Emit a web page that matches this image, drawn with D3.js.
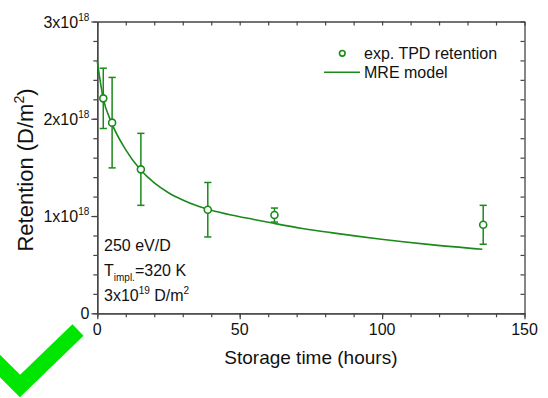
<!DOCTYPE html>
<html>
<head>
<meta charset="utf-8">
<script src="https://cdn.jsdelivr.net/npm/d3@7"></script>
<style>
    body { margin: 0; background: #fff; }
    svg { display: block; font-family: Arial, "Liberation Sans", sans-serif; }
</style>
</head>
<body>
<svg id="chart" width="548" height="398"></svg>
<script>
// data, retention in units of 1e18 D/m^2
const timeHours = [2.1, 5.2, 15.3, 38.8, 62.2, 135.5];
const retention = [2.21, 1.96, 1.48, 1.065, 1.01, 0.91];
const retentionErr = [0.31, 0.465, 0.37, 0.28, 0.072, 0.2];

const modelTime = [0, 2, 5, 10, 15, 20, 25, 30, 35, 40, 47, 55, 62, 72, 82, 99, 117, 135.2];
const modelRetention = [2.59, 2.22, 1.96, 1.68, 1.48, 1.34, 1.24, 1.165, 1.105, 1.06, 1.011, 0.965, 0.925, 0.872, 0.829, 0.764, 0.706, 0.658];

const xMajorTicks = [0, 50, 100, 150];
const yMajorTicks = [0, 1, 2, 3];
const legendLabels = ['exp. TPD retention', 'MRE model'];

const GREEN = '#1a8a1a';
const AXIS = '#444';

const svg = d3.select('#chart');
const plotLeft = 97.3, plotRight = 524.5, plotTop = 21.5, plotBottom = 313.3;

const x = d3.scaleLinear().domain([0, 150]).range([plotLeft, plotRight]);
const y = d3.scaleLinear().domain([0, 3]).range([plotBottom, plotTop]);

// big check mark in the corner
svg.append('polyline')
    .attr('points', '-22,344 20,386 78,330')
    .attr('fill', 'none')
    .attr('stroke', '#00e600')
    .attr('stroke-width', 16)
    .attr('stroke-linejoin', 'miter');

// axes: left/bottom ticks out, top/right ticks in
const minorX = d3.range(0, 151, 10);
const minorY = d3.range(0, 3.01, 0.2);

function styleAxis(g) {
    g.selectAll('path').attr('stroke', AXIS).attr('stroke-width', 1.3);
    g.selectAll('line').attr('stroke', AXIS).attr('stroke-width', 1.2);
    g.selectAll('text').remove();
}

svg.append('g').attr('transform', `translate(0,${plotBottom})`)
    .call(d3.axisBottom(x).tickValues(minorX).tickSize(4).tickSizeOuter(0))
    .call(styleAxis);
svg.append('g').attr('transform', `translate(0,${plotBottom})`)
    .call(d3.axisBottom(x).tickValues(xMajorTicks).tickSize(6).tickSizeOuter(0))
    .call(styleAxis);
svg.append('g').attr('transform', `translate(0,${plotTop})`)
    .call(d3.axisBottom(x).tickValues(minorX).tickSize(4).tickSizeOuter(0))
    .call(styleAxis);

svg.append('g').attr('transform', `translate(${plotLeft},0)`)
    .call(d3.axisLeft(y).tickValues(minorY).tickSize(4).tickSizeOuter(0))
    .call(styleAxis);
svg.append('g').attr('transform', `translate(${plotLeft},0)`)
    .call(d3.axisLeft(y).tickValues(yMajorTicks).tickSize(6).tickSizeOuter(0))
    .call(styleAxis);
svg.append('g').attr('transform', `translate(${plotRight},0)`)
    .call(d3.axisLeft(y).tickValues(minorY).tickSize(4).tickSizeOuter(0))
    .call(styleAxis);

// tick labels
svg.append('g').selectAll('text').data(xMajorTicks).enter()
    .append('text')
        .attr('x', d => x(d))
        .attr('y', plotBottom + 22)
        .attr('text-anchor', 'middle')
        .attr('font-size', 16)
        .attr('fill', '#111')
        .text(d => d);

let yLabels = svg.append('g').selectAll('text').data(yMajorTicks).enter()
    .append('text')
        .attr('x', plotLeft - 8)
        .attr('y', d => y(d) + 6)
        .attr('text-anchor', 'end')
        .attr('font-size', 16)
        .attr('fill', '#111');
yLabels.each((d, i, nodes) => {
    let t = d3.select(nodes[i]);
    if (d === 0) {
        t.text('0');
        return;
    }
    t.append('tspan').text(d + 'x10');
    t.append('tspan').attr('font-size', 10).attr('dy', -7).text('18');
});

// axis titles
svg.append('text')
    .attr('x', (plotLeft + plotRight) / 2)
    .attr('y', 364)
    .attr('text-anchor', 'middle')
    .attr('font-size', 19)
    .attr('fill', '#111')
    .text('Storage time (hours)');

let yTitle = svg.append('text')
    .attr('transform', 'translate(33,170) rotate(-90)')
    .attr('text-anchor', 'middle')
    .attr('font-size', 22)
    .attr('fill', '#111');
yTitle.append('tspan').text('Retention (D/m');
yTitle.append('tspan').attr('font-size', 14).attr('dy', -9).text('2');
yTitle.append('tspan').attr('dy', 9).text(')');

// model curve
const line = d3.line()
    .x((d, i) => x(modelTime[i]))
    .y(d => y(d))
    .curve(d3.curveMonotoneX);

svg.append('path')
    .datum(modelRetention)
    .attr('d', line)
    .attr('fill', 'none')
    .attr('stroke', GREEN)
    .attr('stroke-width', 1.6);

// error bars
let bars = svg.append('g')
    .attr('stroke', GREEN)
    .attr('stroke-width', 1.5)
    .selectAll('g').data(retention).enter()
    .append('g');
bars.append('line')
    .attr('x1', (d, i) => x(timeHours[i]))
    .attr('x2', (d, i) => x(timeHours[i]))
    .attr('y1', (d, i) => y(d + retentionErr[i]))
    .attr('y2', (d, i) => y(d - retentionErr[i]));
bars.append('line')
    .attr('x1', (d, i) => x(timeHours[i]) - 3.6)
    .attr('x2', (d, i) => x(timeHours[i]) + 3.6)
    .attr('y1', (d, i) => y(d + retentionErr[i]))
    .attr('y2', (d, i) => y(d + retentionErr[i]));
bars.append('line')
    .attr('x1', (d, i) => x(timeHours[i]) - 3.6)
    .attr('x2', (d, i) => x(timeHours[i]) + 3.6)
    .attr('y1', (d, i) => y(d - retentionErr[i]))
    .attr('y2', (d, i) => y(d - retentionErr[i]));

// markers
svg.append('g').selectAll('circle').data(retention).enter()
    .append('circle')
        .attr('cx', (d, i) => x(timeHours[i]))
        .attr('cy', d => y(d))
        .attr('r', 3.5)
        .attr('fill', '#fff')
        .attr('stroke', GREEN)
        .attr('stroke-width', 1.6);

// legend
let legend = svg.append('g');
legend.append('circle')
    .attr('cx', 342.3).attr('cy', 53.3).attr('r', 2.8)
    .attr('fill', '#fff').attr('stroke', GREEN).attr('stroke-width', 1.6);
legend.append('line')
    .attr('x1', 324).attr('x2', 360).attr('y1', 72.3).attr('y2', 72.3)
    .attr('stroke', GREEN).attr('stroke-width', 1.6);
legend.selectAll('text').data(legendLabels).enter()
    .append('text')
        .attr('x', 364)
        .attr('y', (d, i) => 58.5 + i * 19)
        .attr('font-size', 16)
        .attr('fill', '#111')
        .text(d => d);

// implantation conditions
let notes = svg.append('g').attr('font-size', 16).attr('fill', '#111');
notes.append('text').attr('x', 104).attr('y', 251).text('250 eV/D');
let tLine = notes.append('text').attr('x', 104).attr('y', 276);
tLine.append('tspan').text('T');
tLine.append('tspan').attr('font-size', 10).attr('dy', 5).text('impl.');
tLine.append('tspan').attr('dy', -5).text('=320 K');
let fLine = notes.append('text').attr('x', 104).attr('y', 301);
fLine.append('tspan').text('3x10');
fLine.append('tspan').attr('font-size', 10).attr('dy', -7).text('19');
fLine.append('tspan').attr('dy', 7).text(' D/m');
fLine.append('tspan').attr('font-size', 10).attr('dy', -7).text('2');
</script>
</body>
</html>
